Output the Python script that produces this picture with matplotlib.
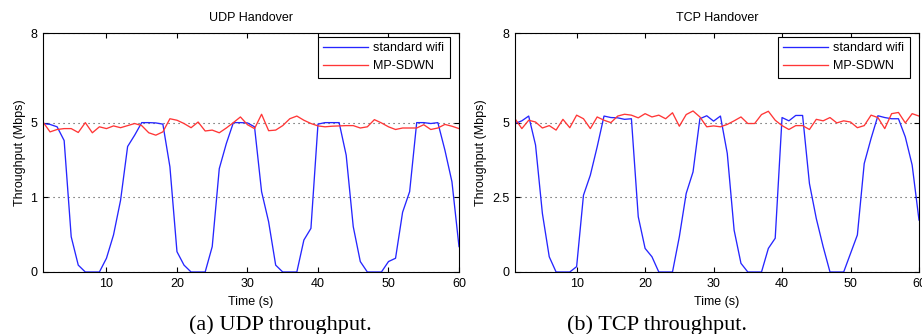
import matplotlib
matplotlib.use('Agg')
import matplotlib.pyplot as plt
import numpy as np

plt.rcParams['font.family'] = ['Liberation Sans', 'DejaVu Sans']
plt.rcParams['font.size'] = 9

time_s = list(range(1, 61))

udp_wifi = [4.97, 4.94, 4.86, 4.4, 1.18, 0.23, 0, 0, 0, 0.46,
            1.24, 2.4, 4.2, 4.58, 5.0, 5.0, 4.99, 4.95, 3.52, 0.68,
            0.23, 0, 0, 0, 0.85, 3.46, 4.3, 5.0, 5.0, 4.99,
            4.86, 2.69, 1.68, 0.23, 0, 0, 0, 1.07, 1.46, 4.95,
            5.0, 5.0, 5.0, 3.91, 1.52, 0.35, 0, 0, 0, 0.35,
            0.46, 2.0, 2.69, 5.0, 5.0, 4.97, 5.0, 4.08, 3.02, 0.85]
udp_mpsdwn = [5.02, 4.69, 4.77, 4.8, 4.8, 4.67, 5.0, 4.66, 4.86, 4.8,
              4.89, 4.83, 4.9, 4.97, 4.9, 4.66, 4.58, 4.69, 5.13, 5.08,
              4.97, 4.83, 5.02, 4.72, 4.75, 4.66, 4.82, 5.0, 5.19, 4.93,
              4.8, 5.28, 4.73, 4.75, 4.9, 5.13, 5.22, 5.08, 4.97, 4.89,
              4.86, 4.88, 4.89, 4.9, 4.9, 4.82, 4.86, 5.1, 4.99, 4.86,
              4.77, 4.82, 4.82, 4.82, 4.93, 4.77, 4.82, 4.94, 4.88, 4.8]

tcp_wifi = [4.97, 5.06, 5.22, 4.25, 1.96, 0.51, 0, 0, 0, 0.18,
            2.57, 3.24, 4.19, 5.22, 5.17, 5.16, 5.11, 5.13, 1.85, 0.79,
            0.51, 0, 0, 0, 1.18, 2.63, 3.35, 5.13, 5.23, 5.05,
            5.22, 3.97, 1.4, 0.29, 0, 0, 0, 0.79, 1.13, 5.17,
            5.06, 5.24, 5.24, 2.96, 1.79, 0.85, 0, 0, 0, 0.62,
            1.24, 3.63, 4.47, 5.23, 5.17, 5.13, 5.13, 4.52, 3.58, 1.74]
tcp_mpsdwn = [5.13, 4.8, 5.08, 5.02, 4.82, 4.9, 4.75, 5.11, 4.83, 5.25,
              5.13, 4.8, 5.19, 5.08, 5.0, 5.22, 5.28, 5.25, 5.16, 5.3,
              5.19, 5.25, 5.13, 5.33, 4.88, 5.27, 5.39, 5.19, 4.86, 4.89,
              4.86, 4.94, 5.06, 5.19, 4.97, 4.97, 5.27, 5.38, 5.08, 4.9,
              4.77, 4.9, 4.9, 4.77, 5.11, 5.06, 5.17, 4.99, 5.06, 5.02,
              4.83, 4.9, 5.25, 5.17, 4.8, 5.3, 5.34, 4.99, 5.3, 5.22]

x_ticks = [10, 20, 30, 40, 50, 60]
y_ticks = [0, 2.5, 5, 8]
udp_ytick_labels = ['0', '1', '5', '8']
tcp_ytick_labels = ['0', '2.5', '5', '8']

panels = [
    ('UDP Handover', udp_wifi, udp_mpsdwn, udp_ytick_labels,
     [43 / 922, 62 / 334, 416 / 922, 239 / 334], '(a) UDP throughput.', 280),
    ('TCP Handover', tcp_wifi, tcp_mpsdwn, tcp_ytick_labels,
     [515 / 922, 62 / 334, 404 / 922, 239 / 334], '(b) TCP throughput.', 657),
]

fig = plt.figure(figsize=(9.22, 3.34), dpi=100)

for title, wifi, sdwn, ylabels, rect, caption, cap_x in panels:
    ax = fig.add_axes(rect)
    ax.plot(time_s, wifi, color='#2626ff', lw=0.95, label='standard wifi')
    ax.plot(time_s, sdwn, color='#ff3636', lw=0.95, label='MP-SDWN')
    ax.set_xlim(1, 60)
    ax.set_ylim(0, 8)
    ax.set_xticks(x_ticks)
    ax.set_yticks(y_ticks)
    ax.set_yticklabels(ylabels)
    ax.yaxis.grid(True, linestyle=(0, (1, 3.5)), color='#444444', lw=0.8)
    ax.set_axisbelow(True)
    ax.tick_params(direction='in', length=3.5, width=0.8, top=True, right=True,
                   labelsize=9, pad=4)
    for sp in ax.spines.values():
        sp.set_linewidth(0.8)
    ax.set_title(title, fontsize=9, pad=8.5)
    ax.set_xlabel('Time (s)', fontsize=9, labelpad=4.5)
    ax.set_ylabel('Throughput (Mbps)', fontsize=9, labelpad=3.5)
    leg = ax.legend(loc='upper right', bbox_to_anchor=(0.978, 0.985),
                    fancybox=False, edgecolor='black', framealpha=1,
                    handlelength=3.6, handletextpad=0.4, borderpad=0.45,
                    labelspacing=0.5, fontsize=9, borderaxespad=0)
    leg.get_frame().set_linewidth(0.8)
    fig.text(cap_x / 922, 1 - 330 / 334, caption, family='Liberation Serif',
             fontsize=16, ha='center', va='baseline')

fig.savefig('out.png', dpi=100)
